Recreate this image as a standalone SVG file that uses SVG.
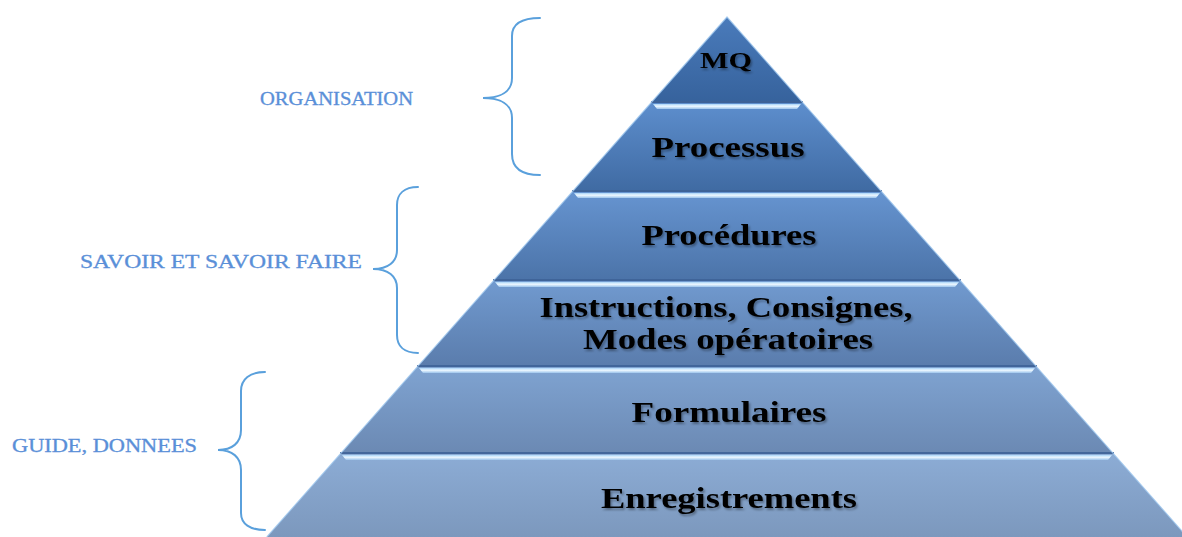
<svg xmlns="http://www.w3.org/2000/svg" width="1182" height="537" viewBox="0 0 1182 537">
<style>
.lbl{font-family:"Liberation Serif","Times New Roman",serif;font-weight:bold;fill:#000;text-anchor:middle;filter:url(#sh)}
.side{font-family:"Liberation Serif","Times New Roman",serif;font-size:18px;fill:#5a8fd8;stroke:#5a8fd8;stroke-width:0.3}
.brace{fill:none;stroke:#5aa0dc;stroke-width:2;stroke-linecap:round}
.dark{stroke:#3d6296;stroke-width:2;stroke-opacity:0.85}
.hl{fill:url(#ghl)}
.edge{fill:none;stroke:#9cc6ee;stroke-width:1.2;stroke-opacity:0.8}
</style>
<defs>
<filter id="sh" x="-10%" y="-30%" width="120%" height="160%">
<feDropShadow dx="1.5" dy="2" stdDeviation="1.2" flood-color="#000" flood-opacity="0.35"/>
</filter>
<linearGradient id="ghl" x1="0" y1="0" x2="0" y2="1">
<stop offset="0" stop-color="#a8d4f8"/><stop offset="0.45" stop-color="#eef8ff"/><stop offset="1" stop-color="#9cc4ec"/>
</linearGradient>
<linearGradient id="g0" x1="0" y1="0" x2="0" y2="1"><stop offset="0" stop-color="#4a7bbb"/><stop offset="1" stop-color="#36629c"/></linearGradient>
<linearGradient id="g1" x1="0" y1="0" x2="0" y2="1"><stop offset="0" stop-color="#5d8ecd"/><stop offset="1" stop-color="#3f6aa2"/></linearGradient>
<linearGradient id="g2" x1="0" y1="0" x2="0" y2="1"><stop offset="0" stop-color="#6694d0"/><stop offset="1" stop-color="#4b73a8"/></linearGradient>
<linearGradient id="g3" x1="0" y1="0" x2="0" y2="1"><stop offset="0" stop-color="#719acf"/><stop offset="1" stop-color="#5a7cac"/></linearGradient>
<linearGradient id="g4" x1="0" y1="0" x2="0" y2="1"><stop offset="0" stop-color="#7fa3d1"/><stop offset="1" stop-color="#6b89b3"/></linearGradient>
<linearGradient id="g5" x1="0" y1="0" x2="0" y2="1"><stop offset="0" stop-color="#8cacd5"/><stop offset="1" stop-color="#7c98bd"/></linearGradient>
</defs>
<rect width="1182" height="537" fill="#fff"/>

<g id="layer-mq">
<polygon points="727,17 803.1,103 650.9,103" fill="url(#g0)"/>
<text class="lbl" x="726" y="68" font-size="23" textLength="52" lengthAdjust="spacingAndGlyphs">MQ</text>
</g>
<g id="layer-processus">
<polygon points="650.9,103 803.1,103 881.9,192 572.1,192" fill="url(#g1)"/>
<line class="dark" x1="651" y1="102" x2="803" y2="102"/>
<polygon class="hl" points="653,104 801,104 797,109 657,109"/>
<text class="lbl" x="728" y="157" font-size="29" textLength="153" lengthAdjust="spacingAndGlyphs">Processus</text>
</g>
<g id="layer-procedures">
<polygon points="572.1,192 881.9,192 960.6,281 493.4,281" fill="url(#g2)"/>
<line class="dark" x1="572" y1="191" x2="882" y2="191"/>
<polygon class="hl" points="574,193 880,193 876,198 578,198"/>
<text class="lbl" x="729" y="245" font-size="29" textLength="175" lengthAdjust="spacingAndGlyphs">Procédures</text>
</g>
<g id="layer-instructions">
<polygon points="493.4,281 960.6,281 1036.7,367 417.3,367" fill="url(#g3)"/>
<line class="dark" x1="493" y1="280" x2="961" y2="280"/>
<polygon class="hl" points="495,282 959,282 955,287 499,287"/>
<text class="lbl" x="726" y="317" font-size="29" textLength="373" lengthAdjust="spacingAndGlyphs">Instructions, Consignes,</text>
<text class="lbl" x="728" y="349" font-size="29" textLength="290" lengthAdjust="spacingAndGlyphs">Modes opératoires</text>
</g>
<g id="layer-formulaires">
<polygon points="417.3,367 1036.7,367 1113.7,454 340.3,454" fill="url(#g4)"/>
<line class="dark" x1="417" y1="366" x2="1037" y2="366"/>
<polygon class="hl" points="419,368 1035,368 1031,373 423,373"/>
<text class="lbl" x="729" y="422" font-size="30" textLength="195" lengthAdjust="spacingAndGlyphs">Formulaires</text>
</g>
<g id="layer-enregistrements">
<polygon points="340.3,454 1113.7,454 1187.2,537 266.8,537" fill="url(#g5)"/>
<line class="dark" x1="340" y1="453" x2="1114" y2="453"/>
<polygon class="hl" points="342,455 1112,455 1108,460 346,460"/>
<text class="lbl" x="729" y="508" font-size="30" textLength="256" lengthAdjust="spacingAndGlyphs">Enregistrements</text>
</g>
<g id="edges">
<polyline class="edge" points="266.8,537 727,17 1187.2,537"/>
</g>

<g id="braces">
<path class="brace" d="M540,18 C522,18 512,24 512,36 L512,78 C512,92 500,98 483,98 C500,98 512,104 512,118 L512,154 C512,168 522,175 540,175"/>
<path class="brace" d="M418,187 C404,187 397,194 397,205 L397,250 C397,262 388,269 373,269 C388,269 397,276 397,288 L397,335 C397,346 404,353 418,353"/>
<path class="brace" d="M265,372 C250,372 241,379 241,391 L241,430 C241,443 232,450 218,450 C232,450 241,457 241,470 L241,513 C241,524 250,530 265,530"/>
</g>
<g id="label-organisation">
<text class="side" x="260" y="105" textLength="153" lengthAdjust="spacingAndGlyphs">ORGANISATION</text>
</g>
<g id="label-savoir">
<text class="side" x="80" y="268" textLength="282" lengthAdjust="spacingAndGlyphs">SAVOIR ET SAVOIR FAIRE</text>
</g>
<g id="label-guide">
<text class="side" x="12" y="452" textLength="185" lengthAdjust="spacingAndGlyphs">GUIDE, DONNEES</text>
</g>
</svg>
